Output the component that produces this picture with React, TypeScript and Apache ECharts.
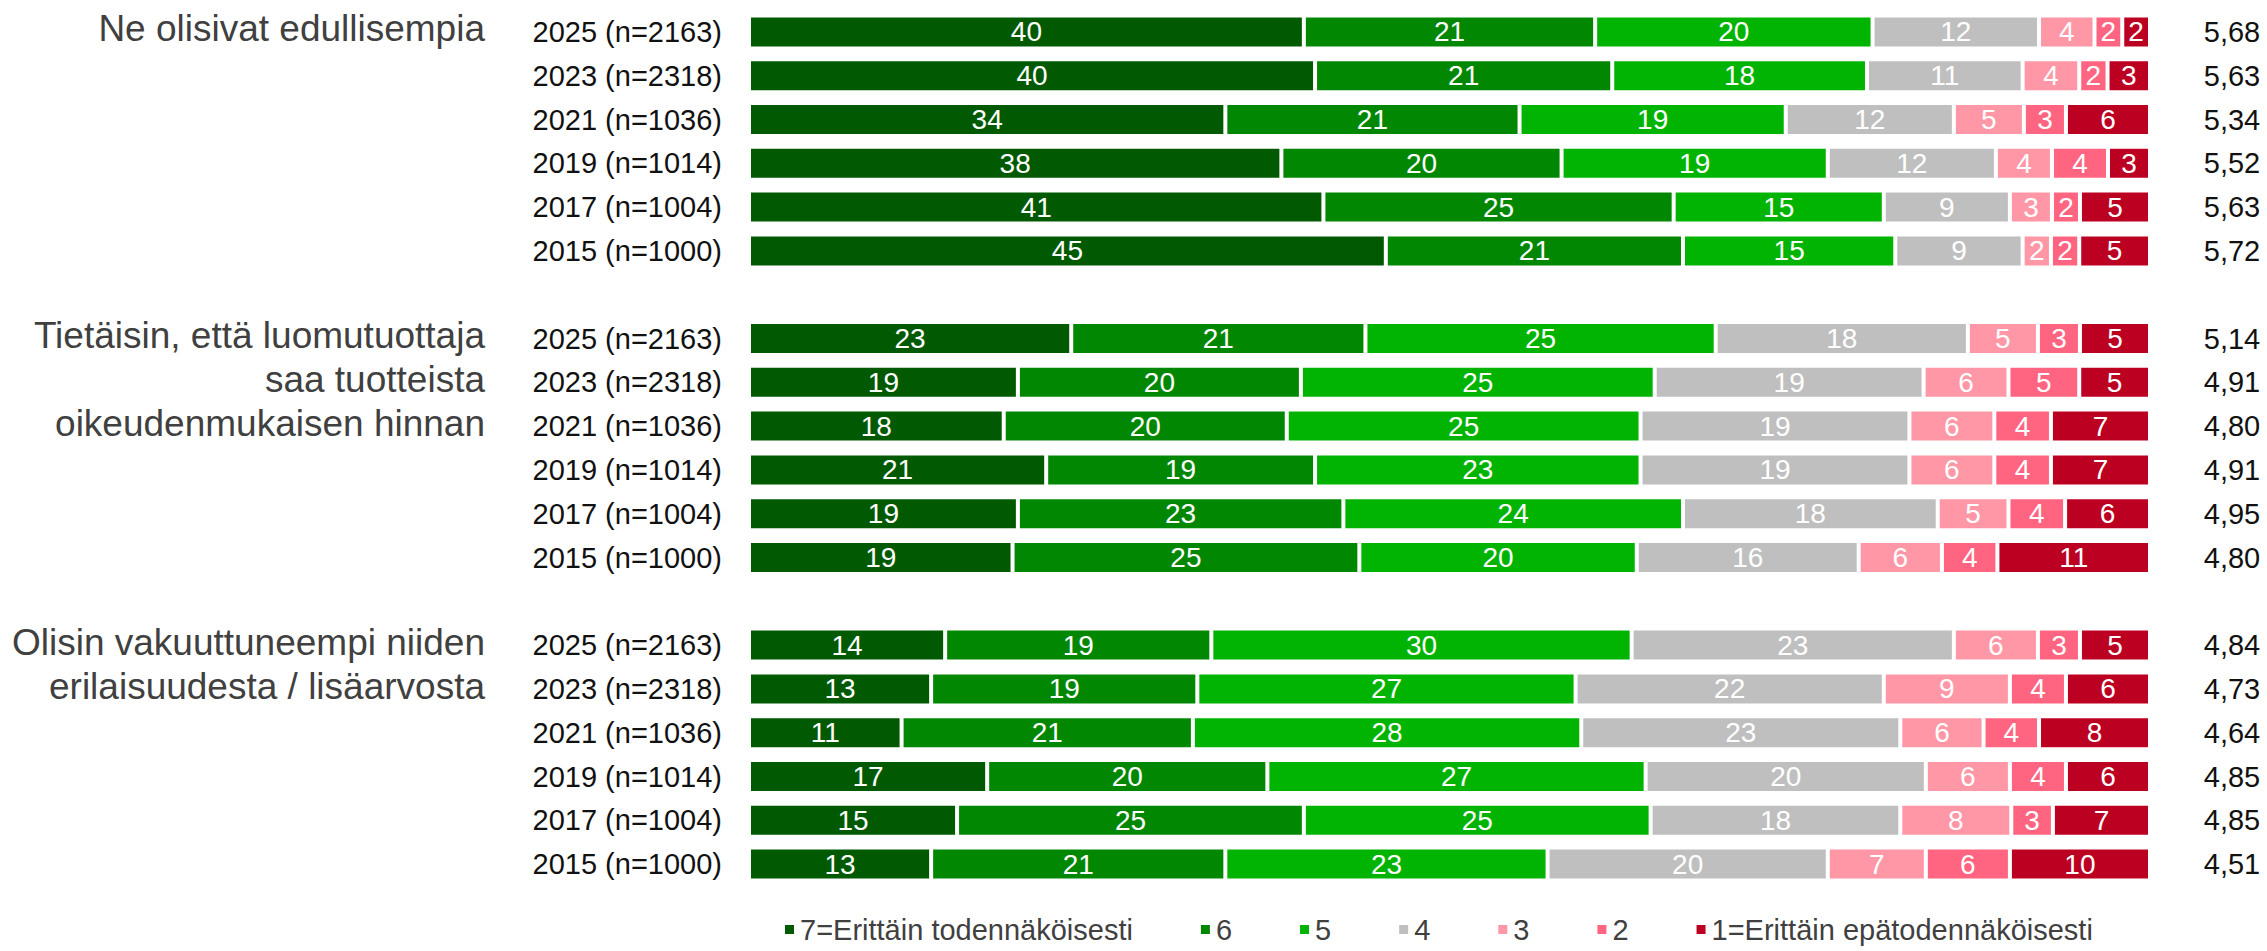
import React, { useEffect, useRef } from "react";
import * as echarts from "echarts";

const levels = [
  "7=Erittäin todennäköisesti",
  "6",
  "5",
  "4",
  "3",
  "2",
  "1=Erittäin epätodennäköisesti",
];
const levelColors = ["#015A01", "#028702", "#02B402", "#BFBFBF", "#FF97A6", "#FF6480", "#BC0021"];

const statements = [
  "Ne olisivat edullisempia",
  "Tietäisin, että luomutuottaja\nsaa tuotteista\noikeudenmukaisen hinnan",
  "Olisin vakuuttuneempi niiden\nerilaisuudesta / lisäarvosta",
];

const yearLabels = [
  "2025 (n=2163)",
  "2023 (n=2318)",
  "2021 (n=1036)",
  "2019 (n=1014)",
  "2017 (n=1004)",
  "2015 (n=1000)",
];

// shares per year, columns = levels 7..1
const edullisempia = [
  [40, 21, 20, 12, 4, 2, 2],
  [40, 21, 18, 11, 4, 2, 3],
  [34, 21, 19, 12, 5, 3, 6],
  [38, 20, 19, 12, 4, 4, 3],
  [41, 25, 15, 9, 3, 2, 5],
  [45, 21, 15, 9, 2, 2, 5],
];
const oikeudenmukainenHinta = [
  [23, 21, 25, 18, 5, 3, 5],
  [19, 20, 25, 19, 6, 5, 5],
  [18, 20, 25, 19, 6, 4, 7],
  [21, 19, 23, 19, 6, 4, 7],
  [19, 23, 24, 18, 5, 4, 6],
  [19, 25, 20, 16, 6, 4, 11],
];
const lisaarvo = [
  [14, 19, 30, 23, 6, 3, 5],
  [13, 19, 27, 22, 9, 4, 6],
  [11, 21, 28, 23, 6, 4, 8],
  [17, 20, 27, 20, 6, 4, 6],
  [15, 25, 25, 18, 8, 3, 7],
  [13, 21, 23, 20, 7, 6, 10],
];

const meansEdullisempia = ["5,68", "5,63", "5,34", "5,52", "5,63", "5,72"];
const meansOikeudenmukainen = ["5,14", "4,91", "4,80", "4,91", "4,95", "4,80"];
const meansLisaarvo = ["4,84", "4,73", "4,64", "4,85", "4,85", "4,51"];

const FONT = "'Liberation Sans', Arial, Helvetica, sans-serif";

export default function App() {
  const ref = useRef<HTMLDivElement>(null);

  useEffect(() => {
    if (!ref.current) return;
    const chart = echarts.init(ref.current, undefined, { renderer: "svg" });

    const groups = [edullisempia, oikeudenmukainenHinta, lisaarvo];
    const groupMeans = [meansEdullisempia, meansOikeudenmukainen, meansLisaarvo];

    const rows: (number[] | null)[] = [];
    const rowLabels: string[] = [];
    const rowMeans: string[] = [];
    const groupStart: number[] = [];
    groups.forEach((g, gi) => {
      if (gi > 0) {
        rows.push(null);
        rowLabels.push("");
        rowMeans.push("");
      }
      groupStart.push(rows.length);
      g.forEach((r, ri) => {
        rows.push(r);
        rowLabels.push(yearLabels[ri]);
        rowMeans.push(groupMeans[gi][ri]);
      });
    });
    const cats = rows.map((_, i) => String(i));

    const W = 2267;
    const H = 951;
    const gridTop = 10;
    const gridBottom = 65;
    const gridLeft = 749;
    const gridRight = 117;
    const slot = (H - gridTop - gridBottom) / cats.length;

    const series = levels.map((name, li) => ({
      name,
      type: "bar",
      stack: "total",
      barWidth: 33,
      itemStyle: { color: levelColors[li], borderColor: "#ffffff", borderWidth: 2 },
      label: {
        show: true,
        position: "inside",
        color: "#ffffff",
        fontFamily: FONT,
        fontSize: 28,
        formatter: (p: any) => {
          const r = rows[p.dataIndex];
          return r ? String(r[li]) : "";
        },
      },
      data: rows.map((r) => {
        if (!r) return "-";
        const sum = r.reduce((a, b) => a + b, 0);
        return (r[li] / sum) * 100;
      }),
    }));

    const titles = statements.map((s, gi) => ({
      type: "text",
      right: W - 485,
      top: gridTop + (groupStart[gi] + 0.5) * slot - 3 - 22,
      style: {
        text: s,
        fill: "#404040",
        font: `37px ${FONT}`,
        textAlign: "right",
        lineHeight: 44,
      },
    }));

    chart.setOption({
      animation: false,
      backgroundColor: "#ffffff",
      grid: { left: gridLeft, right: gridRight, top: gridTop, bottom: gridBottom, containLabel: false },
      xAxis: { type: "value", min: 0, max: 100, show: false },
      yAxis: [
        {
          type: "category",
          data: cats,
          inverse: true,
          axisLine: { show: false },
          axisTick: { show: false },
          splitLine: { show: false },
          axisLabel: {
            margin: 27,
            color: "#111111",
            fontFamily: FONT,
            fontSize: 29,
            formatter: (_v: string, i: number) => rowLabels[i],
          },
        },
        {
          type: "category",
          data: cats,
          inverse: true,
          position: "right",
          axisLine: { show: false },
          axisTick: { show: false },
          splitLine: { show: false },
          axisLabel: {
            margin: 82,
            align: "center",
            color: "#111111",
            fontFamily: FONT,
            fontSize: 29,
            formatter: (_v: string, i: number) => rowMeans[i],
          },
        },
      ],
      legend: {
        left: 783,
        top: 915,
        padding: 0,
        itemWidth: 11,
        itemHeight: 11,
        itemGap: 66,
        icon: "rect",
        textStyle: { color: "#404040", fontFamily: FONT, fontSize: 29 },
        data: levels,
      },
      graphic: titles,
      series,
    } as any);

    return () => chart.dispose();
  }, []);

  return (
    <div
      ref={ref}
      style={{ position: "fixed", left: 0, top: 0, width: 2267, height: 951, background: "#fff" }}
    />
  );
}
